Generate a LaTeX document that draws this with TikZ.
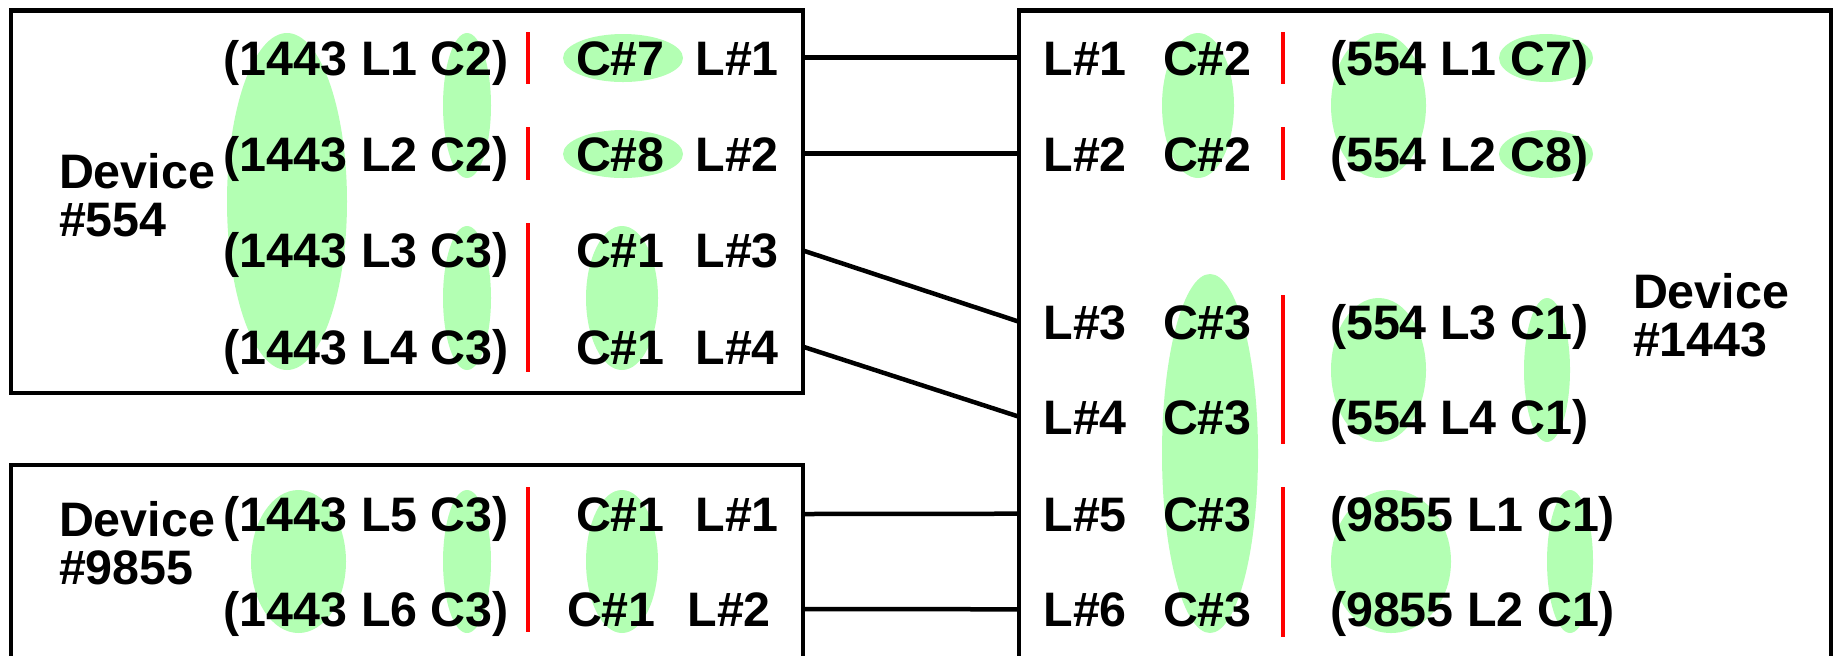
\documentclass[tikz,border=0pt]{standalone}
\usepackage{fontspec}
\setmainfont{Liberation Sans}
\definecolor{hlgreen}{RGB}{179,255,179}
\begin{document}
\begin{tikzpicture}[x=0.5pt,y=-0.5pt,
  txt/.style={font=\fontsize{24.2}{24}\selectfont\bfseries, inner sep=0pt, outer sep=0pt, text height=17.3pt, text depth=0pt},
  devlabel/.style={font=\fontsize{24.2}{24}\selectfont\bfseries, inner sep=0pt, outer sep=0pt, align=left, anchor=west},
  devbox/.style={draw, line width=2.25pt, inner sep=0pt, outer sep=0pt, anchor=north west},
  conn/.style={line width=2.25pt},
  hl/.style={fill=hlgreen},
  bar/.style={draw=red, line width=2pt}]
\useasboundingbox (0,0) rectangle (1835,655);
\begin{scope}
\clip (0,0) rectangle (1835,655);
% highlight ellipses
\fill[hl] (287,201.5) ellipse [x radius=60, y radius=168.5];
\fill[hl] (467,105.5) ellipse [x radius=24, y radius=72.5];
\fill[hl] (467,298) ellipse [x radius=24, y radius=72];
\fill[hl] (623,58) ellipse [x radius=60, y radius=24];
\fill[hl] (623,154) ellipse [x radius=60, y radius=24];
\fill[hl] (622,298) ellipse [x radius=36, y radius=72];
\fill[hl] (298.5,561.5) ellipse [x radius=47.5, y radius=71.5];
\fill[hl] (467,561.5) ellipse [x radius=24, y radius=71.5];
\fill[hl] (622,561.5) ellipse [x radius=36, y radius=71.5];
\fill[hl] (1198,105.5) ellipse [x radius=36, y radius=72.5];
\fill[hl] (1378.5,105.5) ellipse [x radius=47.5, y radius=72.5];
\fill[hl] (1546,58) ellipse [x radius=47, y radius=24];
\fill[hl] (1546,154) ellipse [x radius=47, y radius=24];
\fill[hl] (1210,453.5) ellipse [x radius=48, y radius=179.5];
\fill[hl] (1378.5,370) ellipse [x radius=47.5, y radius=72];
\fill[hl] (1547,370) ellipse [x radius=23, y radius=72];
\fill[hl] (1391,561.5) ellipse [x radius=60, y radius=71.5];
\fill[hl] (1570,561.5) ellipse [x radius=23, y radius=71.5];
% device boxes
\node[devbox, minimum width=396pt, minimum height=191.25pt] (b554) at (11,10.5) {};
\node[devbox, minimum width=396pt, minimum height=150pt] (b9855) at (11,465) {};
\node[devbox, minimum width=406pt, minimum height=350pt] (b1443) at (1019,10.5) {};
% red separators
\draw[bar] (528,32) -- (528,84);
\draw[bar] (528,127) -- (528,180);
\draw[bar] (528,223) -- (528,372);
\draw[bar] (528,487) -- (528,632);
\draw[bar] (1283,32) -- (1283,84);
\draw[bar] (1283,127) -- (1283,180);
\draw[bar] (1283,295) -- (1283,444);
\draw[bar] (1283,487) -- (1283,637);
% device labels
\node[devlabel] (n554) at (59,195.5) {Device\\[0pt]\#554};
\node[devlabel] (n9855) at (59,543.5) {Device\\[0pt]\#9855};
\node[devlabel] (n1443) at (1633,315) {Device\\[0pt]\#1443};
% device 554 rows
\node[txt, anchor=east] (a1) at (509,57.7) {(1443 L1 C2)};
\node[txt, anchor=east] (a2) at (509,153.7) {(1443 L2 C2)};
\node[txt, anchor=east] (a3) at (509,250.5) {(1443 L3 C3)};
\node[txt, anchor=east] (a4) at (509,346.7) {(1443 L4 C3)};
\node[txt, anchor=west] (ac1) at (576,57.7) {C\#7};
\node[txt, anchor=west] (ac2) at (576,153.7) {C\#8};
\node[txt, anchor=west] (ac3) at (576,250.5) {C\#1};
\node[txt, anchor=west] (ac4) at (576,346.7) {C\#1};
\node[txt, anchor=west] (al1) at (695.5,57.7) {L\#1};
\node[txt, anchor=west] (al2) at (695.5,153.7) {L\#2};
\node[txt, anchor=west] (al3) at (695.5,250.5) {L\#3};
\node[txt, anchor=west] (al4) at (695.5,346.7) {L\#4};
% device 9855 rows
\node[txt, anchor=east] (d1) at (509,514) {(1443 L5 C3)};
\node[txt, anchor=east] (d2) at (509,609) {(1443 L6 C3)};
\node[txt, anchor=west] (dc1) at (576,514) {C\#1};
\node[txt, anchor=west] (dc2) at (567,609) {C\#1};
\node[txt, anchor=west] (dl1) at (695.5,514) {L\#1};
\node[txt, anchor=west] (dl2) at (687.5,609) {L\#2};
% device 1443 rows
\node[txt, anchor=west] (r1) at (1043.5,57.7) {L\#1};
\node[txt, anchor=west] (r2) at (1043.5,153.7) {L\#2};
\node[txt, anchor=west] (r3) at (1043.5,321.7) {L\#3};
\node[txt, anchor=west] (r4) at (1043.5,416.7) {L\#4};
\node[txt, anchor=west] (r5) at (1043.5,513.7) {L\#5};
\node[txt, anchor=west] (r6) at (1043.5,609.3) {L\#6};
\node[txt, anchor=west] (rc1) at (1163,57.7) {C\#2};
\node[txt, anchor=west] (rc2) at (1163,153.7) {C\#2};
\node[txt, anchor=west] (rc3) at (1163,321.7) {C\#3};
\node[txt, anchor=west] (rc4) at (1163,416.7) {C\#3};
\node[txt, anchor=west] (rc5) at (1163,513.7) {C\#3};
\node[txt, anchor=west] (rc6) at (1163,609.3) {C\#3};
\node[txt, anchor=west] (rp1) at (1330,57.7) {(554 L1 C7)};
\node[txt, anchor=west] (rp2) at (1330,153.7) {(554 L2 C8)};
\node[txt, anchor=west] (rp3) at (1330,321.7) {(554 L3 C1)};
\node[txt, anchor=west] (rp4) at (1330,416.7) {(554 L4 C1)};
\node[txt, anchor=west] (rp5) at (1330,513.7) {(9855 L1 C1)};
\node[txt, anchor=west] (rp6) at (1330,609.3) {(9855 L2 C1)};
% connectors
\draw[conn] (b554.east |- al1) -- (b1443.west |- r1);
\draw[conn] (b554.east |- al2) -- (b1443.west |- r2);
\draw[conn] (b554.east |- al3) -- (b1443.west |- r3);
\draw[conn] (b554.east |- al4) -- (b1443.west |- r4);
\draw[conn] (b9855.east |- dl1) -- (b1443.west |- r5);
\draw[conn] (b9855.east |- dl2) -- (b1443.west |- r6);
\end{scope}
\end{tikzpicture}
\end{document}
